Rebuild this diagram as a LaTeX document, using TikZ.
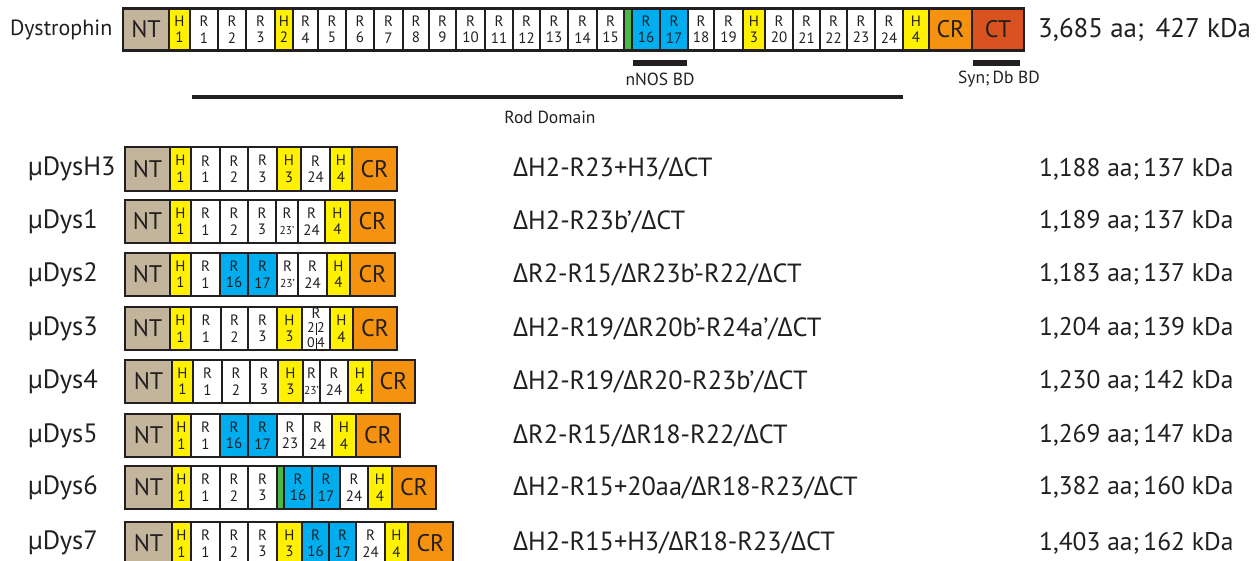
\documentclass[tikz,border=0pt]{standalone}
\usepackage{fontspec}
\setmainfont{PT Sans}
\newfontfamily\gk{Open Sans}
\newcommand\dlt{{\gk Δ}}
\definecolor{bd}{HTML}{231F20}
\definecolor{ntc}{HTML}{C2B59B}
\definecolor{yel}{HTML}{FFF100}
\definecolor{blu}{HTML}{00AEEF}
\definecolor{orc}{HTML}{F5920F}
\definecolor{ctc}{HTML}{D8531F}
\definecolor{grn}{HTML}{4CB748}
\newcommand\seg[5]{\node[#4, minimum width={(#3-#2)*1pt}, minimum height={(\yb-\yt)*1pt}] (#1) at ({(#2+#3)/2},{(\yt+\yb)/2}) {#5};}
\tikzset{
  base/.style={draw=bd, line width=2.1pt, inner sep=0pt, align=center, text=bd},
  ntbox/.style={base, fill=ntc, font=\fontsize{24}{28}\selectfont},
  hbox/.style={base, fill=yel, font=\fontsize{15}{16.5}\selectfont},
  rbox/.style={base, fill=white, font=\fontsize{15}{16.5}\selectfont},
  bbox/.style={base, fill=blu, font=\fontsize{15}{16.5}\selectfont},
  gbox/.style={base, fill=grn},
  crbox/.style={base, fill=orc, font=\fontsize{24}{28}\selectfont},
  ctbox/.style={base, fill=ctc, font=\fontsize{24}{28}\selectfont},
  rowlab/.style={anchor=west, inner sep=0pt, text=bd, font=\fontsize{26.5}{30}\selectfont},
  midtxt/.style={anchor=west, inner sep=0pt, text=bd, font=\fontsize{26.3}{30}\selectfont},
  sizetxt/.style={anchor=west, inner sep=0pt, text=bd, font=\fontsize{25.5}{30}\selectfont},
  smalltxt/.style={inner sep=0pt, text=bd, font=\fontsize{17.5}{20}\selectfont},
  barline/.style={fill=bd, inner sep=0pt},
}
\newcommand\pr{\fontsize{11.5}{13}\selectfont 23’}
\newcommand\vb{\kern0.8pt\vrule height 9.5pt depth 2pt width 0.7pt\kern0.8pt}
\begin{document}
\begin{tikzpicture}[x=1pt,y=-1pt]
\useasboundingbox (0,0) rectangle (1256,561);
\clip (0,0) rectangle (1256,561);
\fill[white] (0,0) rectangle (1256,561);
% ---------- full dystrophin ----------
\def\yt{8.5}\def\yb{50.5}
\seg{d-nt}{123}{169}{ntbox}{NT}
\seg{d-h1}{169}{190}{hbox}{H\\1}
\seg{d-r1}{190}{218}{rbox}{R\\1}
\seg{d-r2}{218}{246}{rbox}{R\\2}
\seg{d-r3}{246}{275}{rbox}{R\\3}
\seg{d-h2}{275}{293}{hbox}{H\\2}
\seg{d-r4}{293}{318}{rbox}{R\\4}
\seg{d-r5}{318}{346}{rbox}{R\\5}
\seg{d-r6}{346}{374}{rbox}{R\\6}
\seg{d-r7}{374}{403}{rbox}{R\\7}
\seg{d-r8}{403}{429}{rbox}{R\\8}
\seg{d-r9}{429}{456}{rbox}{R\\9}
\seg{d-r10}{456}{485}{rbox}{R\\10}
\seg{d-r11}{485}{513}{rbox}{R\\11}
\seg{d-r12}{513}{540}{rbox}{R\\12}
\seg{d-r13}{540}{568}{rbox}{R\\13}
\seg{d-r14}{568}{597}{rbox}{R\\14}
\seg{d-r15}{597}{624}{rbox}{R\\15}
\seg{d-g}{624}{632}{gbox}{}
\seg{d-r16}{632}{660}{bbox}{R\\16}
\seg{d-r17}{660}{688}{bbox}{R\\17}
\seg{d-r18}{688}{714}{rbox}{R\\18}
\seg{d-r19}{714}{743}{rbox}{R\\19}
\seg{d-h3}{743}{765}{hbox}{H\\3}
\seg{d-r20}{765}{793}{rbox}{R\\20}
\seg{d-r21}{793}{820}{rbox}{R\\21}
\seg{d-r22}{820}{847}{rbox}{R\\22}
\seg{d-r23}{847}{875}{rbox}{R\\23}
\seg{d-r24}{875}{903}{rbox}{R\\24}
\seg{d-h4}{903}{929}{hbox}{H\\4}
\seg{d-cr}{929}{972}{crbox}{CR}
\seg{d-ct}{972}{1024}{ctbox}{CT}
\node[rowlab, font=\fontsize{22}{26}\selectfont] (dys) at (10,30) {Dystrophin};
\node[sizetxt, font=\fontsize{27}{30}\selectfont] (dsize) at (1038,30) {3,685 aa;\, 427 kDa};
\node[barline, minimum width=54pt, minimum height=6pt] (nnosbar) at (660,63) {};
\node[smalltxt] (nnos) at (660,79) {nNOS BD};
\node[barline, minimum width=47pt, minimum height=6pt] (synbar) at (996.5,63) {};
\node[smalltxt] (syn) at (999,79) {Syn;\,Db BD};
\node[barline, minimum width=711pt, minimum height=4pt] (rodbar) at (547.5,97.5) {};
\node[smalltxt] (rod) at (550,117) {Rod Domain};
% ---------- muDysH3 ----------
\def\yt{147}\def\yb{191}
\seg{a-nt}{125}{170}{ntbox}{NT}
\seg{a-h1}{170}{191}{hbox}{H\\1}
\seg{a-r1}{191}{220}{rbox}{R\\1}
\seg{a-r2}{220}{248}{rbox}{R\\2}
\seg{a-r3}{248}{277}{rbox}{R\\3}
\seg{a-h3}{277}{301}{hbox}{H\\3}
\seg{a-r24}{301}{330}{rbox}{R\\24}
\seg{a-h4}{330}{352}{hbox}{H\\4}
\seg{a-cr}{352}{397}{crbox}{CR}
\node[rowlab] (a-lab) at (28,169) {µDysH3};
\node[midtxt] (a-mid) at (513,169) {\dlt H2-R23+H3/\dlt CT};
\node[sizetxt] (a-size) at (1039,169) {1,188 aa;\,137 kDa};
% ---------- muDys1 ----------
\def\yt{200}\def\yb{243}
\seg{b-nt}{125}{170}{ntbox}{NT}
\seg{b-h1}{170}{191}{hbox}{H\\1}
\seg{b-r1}{191}{220}{rbox}{R\\1}
\seg{b-r2}{220}{248}{rbox}{R\\2}
\seg{b-r3}{248}{276}{rbox}{R\\3}
\seg{b-r23}{276}{298}{rbox}{R\\\pr}
\seg{b-r24}{298}{325}{rbox}{R\\24}
\seg{b-h4}{325}{350}{hbox}{H\\4}
\seg{b-cr}{350}{395}{crbox}{CR}
\node[rowlab] (b-lab) at (28,221.5) {µDys1};
\node[midtxt] (b-mid) at (513,221.5) {\dlt H2-R23b’/\dlt CT};
\node[sizetxt] (b-size) at (1039,221.5) {1,189 aa;\,137 kDa};
% ---------- muDys2 ----------
\def\yt{253}\def\yb{296}
\seg{c-nt}{125}{170}{ntbox}{NT}
\seg{c-h1}{170}{191}{hbox}{H\\1}
\seg{c-r1}{191}{220}{rbox}{R\\1}
\seg{c-r16}{220}{248}{bbox}{R\\16}
\seg{c-r17}{248}{277}{bbox}{R\\17}
\seg{c-r23}{277}{298}{rbox}{R\\\pr}
\seg{c-r24}{298}{327}{rbox}{R\\24}
\seg{c-h4}{327}{350}{hbox}{H\\4}
\seg{c-cr}{350}{395}{crbox}{CR}
\node[rowlab] (c-lab) at (28,274.5) {µDys2};
\node[midtxt] (c-mid) at (513,274.5) {\dlt R2-R15/\dlt R23b’-R22/\dlt CT};
\node[sizetxt] (c-size) at (1039,274.5) {1,183 aa;\,137 kDa};
% ---------- muDys3 ----------
\def\yt{307}\def\yb{350}
\seg{e-nt}{125}{170}{ntbox}{NT}
\seg{e-h1}{170}{191}{hbox}{H\\1}
\seg{e-r1}{191}{221}{rbox}{R\\1}
\seg{e-r2}{221}{248}{rbox}{R\\2}
\seg{e-r3}{248}{277}{rbox}{R\\3}
\seg{e-h3}{277}{302}{hbox}{H\\3}
\seg{e-rx}{302}{330}{rbox}{R\\[-2pt]{\fontsize{14}{11.5}\selectfont 2\vb2}\\[-2pt]{\fontsize{14}{11.5}\selectfont 0\vb4}}
\seg{e-h4}{330}{353}{hbox}{H\\4}
\seg{e-cr}{353}{397}{crbox}{CR}
\node[rowlab] (e-lab) at (28,328.5) {µDys3};
\node[midtxt] (e-mid) at (513,328.5) {\dlt H2-R19/\dlt R20b’-R24a’/\dlt CT};
\node[sizetxt] (e-size) at (1039,328.5) {1,204 aa;\,139 kDa};
% ---------- muDys4 ----------
\def\yt{360}\def\yb{403}
\seg{f-nt}{125}{172}{ntbox}{NT}
\seg{f-h1}{172}{193}{hbox}{H\\1}
\seg{f-r1}{193}{222}{rbox}{R\\1}
\seg{f-r2}{222}{250}{rbox}{R\\2}
\seg{f-r3}{250}{278}{rbox}{R\\3}
\seg{f-h3}{278}{303}{hbox}{H\\3}
\seg{f-r23}{303}{320}{rbox}{R\\\pr}
\seg{f-r24}{320}{348}{rbox}{R\\24}
\seg{f-h4}{348}{372}{hbox}{H\\4}
\seg{f-cr}{372}{415}{crbox}{CR}
\node[rowlab] (f-lab) at (28,381.5) {µDys4};
\node[midtxt] (f-mid) at (513,381.5) {\dlt H2-R19/\dlt R20-R23b’/\dlt CT};
\node[sizetxt] (f-size) at (1039,381.5) {1,230 aa;\,142 kDa};
% ---------- muDys5 ----------
\def\yt{414}\def\yb{457}
\seg{g-nt}{125}{172}{ntbox}{NT}
\seg{g-h1}{172}{191}{hbox}{H\\1}
\seg{g-r1}{191}{220}{rbox}{R\\1}
\seg{g-r16}{220}{248}{bbox}{R\\16}
\seg{g-r17}{248}{277}{bbox}{R\\17}
\seg{g-r23}{277}{303}{rbox}{R\\23}
\seg{g-r24}{303}{332}{rbox}{R\\24}
\seg{g-h4}{332}{356}{hbox}{H\\4}
\seg{g-cr}{356}{400}{crbox}{CR}
\node[rowlab] (g-lab) at (28,435.5) {µDys5};
\node[midtxt] (g-mid) at (513,435.5) {\dlt R2-R15/\dlt R18-R22/\dlt CT};
\node[sizetxt] (g-size) at (1039,435.5) {1,269 aa;\,147 kDa};
% ---------- muDys6 ----------
\def\yt{466}\def\yb{509}
\seg{h-nt}{125}{172}{ntbox}{NT}
\seg{h-h1}{172}{191}{hbox}{H\\1}
\seg{h-r1}{191}{220}{rbox}{R\\1}
\seg{h-r2}{220}{248}{rbox}{R\\2}
\seg{h-r3}{248}{277}{rbox}{R\\3}
\seg{h-g}{277}{284}{gbox}{}
\seg{h-r16}{284}{312}{bbox}{R\\16}
\seg{h-r17}{312}{340}{bbox}{R\\17}
\seg{h-r24}{340}{368}{rbox}{R\\24}
\seg{h-h4}{368}{392}{hbox}{H\\4}
\seg{h-cr}{392}{436}{crbox}{CR}
\node[rowlab] (h-lab) at (28,487.5) {µDys6};
\node[midtxt] (h-mid) at (513,487.5) {\dlt H2-R15+20aa/\dlt R18-R23/\dlt CT};
\node[sizetxt] (h-size) at (1039,487.5) {1,382 aa;\,160 kDa};
% ---------- muDys7 ----------
\def\yt{522}\def\yb{565}
\seg{i-nt}{125}{172}{ntbox}{NT}
\seg{i-h1}{172}{191}{hbox}{H\\1}
\seg{i-r1}{191}{220}{rbox}{R\\1}
\seg{i-r2}{220}{248}{rbox}{R\\2}
\seg{i-r3}{248}{277}{rbox}{R\\3}
\seg{i-h3}{277}{302}{hbox}{H\\3}
\seg{i-r16}{302}{329}{bbox}{R\\16}
\seg{i-r17}{329}{356}{bbox}{R\\17}
\seg{i-r24}{356}{385}{rbox}{R\\24}
\seg{i-h4}{385}{408}{hbox}{H\\4}
\seg{i-cr}{408}{453}{crbox}{CR}
\node[rowlab] (i-lab) at (28,543) {µDys7};
\node[midtxt] (i-mid) at (513,543) {\dlt H2-R15+H3/\dlt R18-R23/\dlt CT};
\node[sizetxt] (i-size) at (1039,543) {1,403 aa;\,162 kDa};
\end{tikzpicture}
\end{document}
